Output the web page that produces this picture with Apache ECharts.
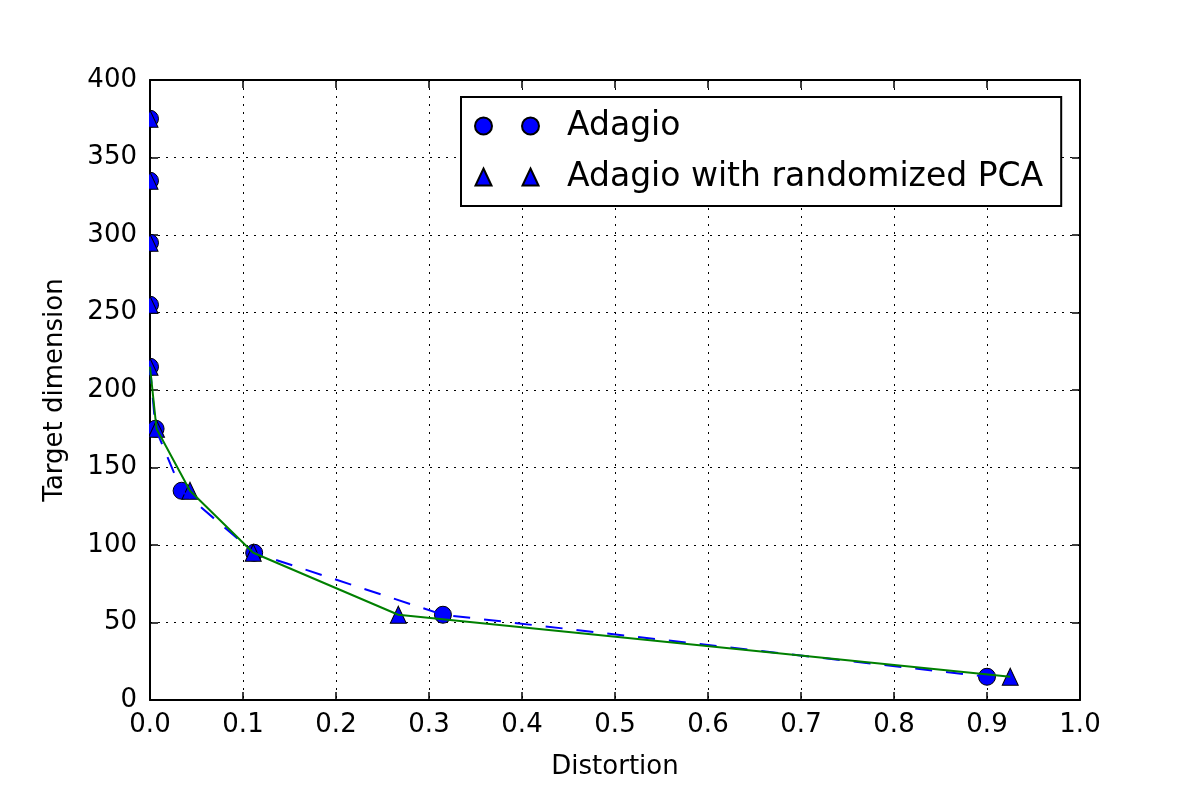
<!DOCTYPE html>
<html>
<head>
<meta charset="utf-8">
<script src="https://cdn.jsdelivr.net/npm/echarts@6/dist/echarts.min.js"></script>
<style>
  html, body { margin: 0; padding: 0; background: #fff; }
  #chart { width: 1200px; height: 800px; }
</style>
</head>
<body>
<div id="chart"></div>
<script>
// values
var adagioX = [0, 0, 0, 0, 0, 0.006, 0.034, 0.112, 0.315, 0.900];
var adagioY = [375, 335, 295, 255, 215, 175, 135, 95, 55, 15];
var pcaX = [0, 0, 0, 0, 0, 0.007, 0.043, 0.111, 0.267, 0.925];
var pcaY = [375, 335, 295, 255, 215, 175, 135, 95, 55, 15];
// the two curves start at the 215 point
var lineStart = 4;

var FONT = 'DejaVu Sans';

function pairs(xs, ys, from) {
  var out = [];
  for (var i = from || 0; i < xs.length; i++) out.push([xs[i], ys[i]]);
  return out;
}

// legend icons: two markers per entry, like matplotlib numpoints=2
var twoCircles = 'path://M0,8.5 A8.5,8.5 0 1,1 17,8.5 A8.5,8.5 0 1,1 0,8.5 Z M47,8.5 A8.5,8.5 0 1,1 64,8.5 A8.5,8.5 0 1,1 47,8.5 Z';
var twoTriangles = 'path://M8.5,0 L16.5,17 L0.5,17 Z M55.5,0 L63.5,17 L47.5,17 Z M0,17 L0,17 M64,0 L64,0';

var chartDom = document.getElementById('chart');
var myChart = echarts.init(chartDom);

var tickInside = { show: true, inside: true, length: 8, lineStyle: { color: '#000', width: 1.5 } };
var spine = { show: true, onZero: false, lineStyle: { color: '#000', width: 2 } };
var grid = { show: true, lineStyle: { color: '#000', width: 1, type: [2, 6] } };

var option = {
  animation: false,
  backgroundColor: '#fff',
  grid: { left: 150, right: 120, top: 80, bottom: 100, containLabel: false },
  legend: {
    orient: 'vertical',
    left: 461,
    top: 97,
    padding: [9, 18, 9, 13],
    borderColor: '#000',
    borderWidth: 2,
    backgroundColor: '#fff',
    itemWidth: 64,
    itemHeight: 17,
    itemGap: 11,
    textStyle: { fontFamily: FONT, fontSize: 33, color: '#000', lineHeight: 40, padding: [0, 0, 0, 23] },
    data: [
      { name: 'Adagio', icon: twoCircles },
      { name: 'Adagio with randomized PCA', icon: twoTriangles }
    ]
  },
  xAxis: [{
    type: 'value', min: 0, max: 1, interval: 0.1,
    name: 'Distortion', nameLocation: 'middle', nameGap: 54,
    nameTextStyle: { fontFamily: FONT, fontSize: 26, color: '#000' },
    axisLine: spine, axisTick: tickInside, splitLine: grid,
    axisLabel: { fontFamily: FONT, fontSize: 26, color: '#000', margin: 12,
      formatter: function (v) { return v.toFixed(1); } }
  }, {
    type: 'value', min: 0, max: 1, interval: 0.1, position: 'top',
    axisLine: spine, axisTick: tickInside, splitLine: { show: false },
    axisLabel: { show: false }
  }],
  yAxis: [{
    type: 'value', min: 0, max: 400, interval: 50,
    name: 'Target dimension', nameLocation: 'middle', nameGap: 82,
    nameTextStyle: { fontFamily: FONT, fontSize: 26, color: '#000' },
    axisLine: spine, axisTick: tickInside, splitLine: grid,
    axisLabel: { fontFamily: FONT, fontSize: 26, color: '#000', margin: 13 }
  }, {
    type: 'value', min: 0, max: 400, interval: 50, position: 'right',
    axisLine: spine, axisTick: tickInside, splitLine: { show: false },
    axisLabel: { show: false }
  }],
  // hide the left half of the markers sitting on x = 0 (matplotlib clips them)
  graphic: [{
    type: 'rect', left: 138, top: 78, z: 100,
    shape: { width: 11, height: 624 },
    style: { fill: '#fff' }
  }],
  series: [
    {
      name: 'Adagio', type: 'scatter', z: 2,
      symbol: 'circle', symbolSize: 17,
      itemStyle: { color: '#0000ff', borderColor: '#000', borderWidth: 1, opacity: 1 },
      data: pairs(adagioX, adagioY)
    },
    {
      name: 'Adagio with randomized PCA', type: 'scatter', z: 3,
      symbol: 'triangle', symbolSize: [16, 17],
      itemStyle: { color: '#0000ff', borderColor: '#000', borderWidth: 1, opacity: 1 },
      data: pairs(pcaX, pcaY)
    },
    {
      name: 'adagio curve', type: 'line', z: 4,
      showSymbol: false, symbol: 'none', silent: true,
      lineStyle: { color: '#0000ff', width: 2, type: [17, 14] },
      data: pairs(adagioX, adagioY, lineStart)
    },
    {
      name: 'pca curve', type: 'line', z: 5,
      showSymbol: false, symbol: 'none', silent: true,
      lineStyle: { color: '#008000', width: 2 },
      data: pairs(pcaX, pcaY, lineStart)
    }
  ]
};

myChart.setOption(option);
window.addEventListener('resize', function () { myChart.resize(); });
</script>
</body>
</html>
